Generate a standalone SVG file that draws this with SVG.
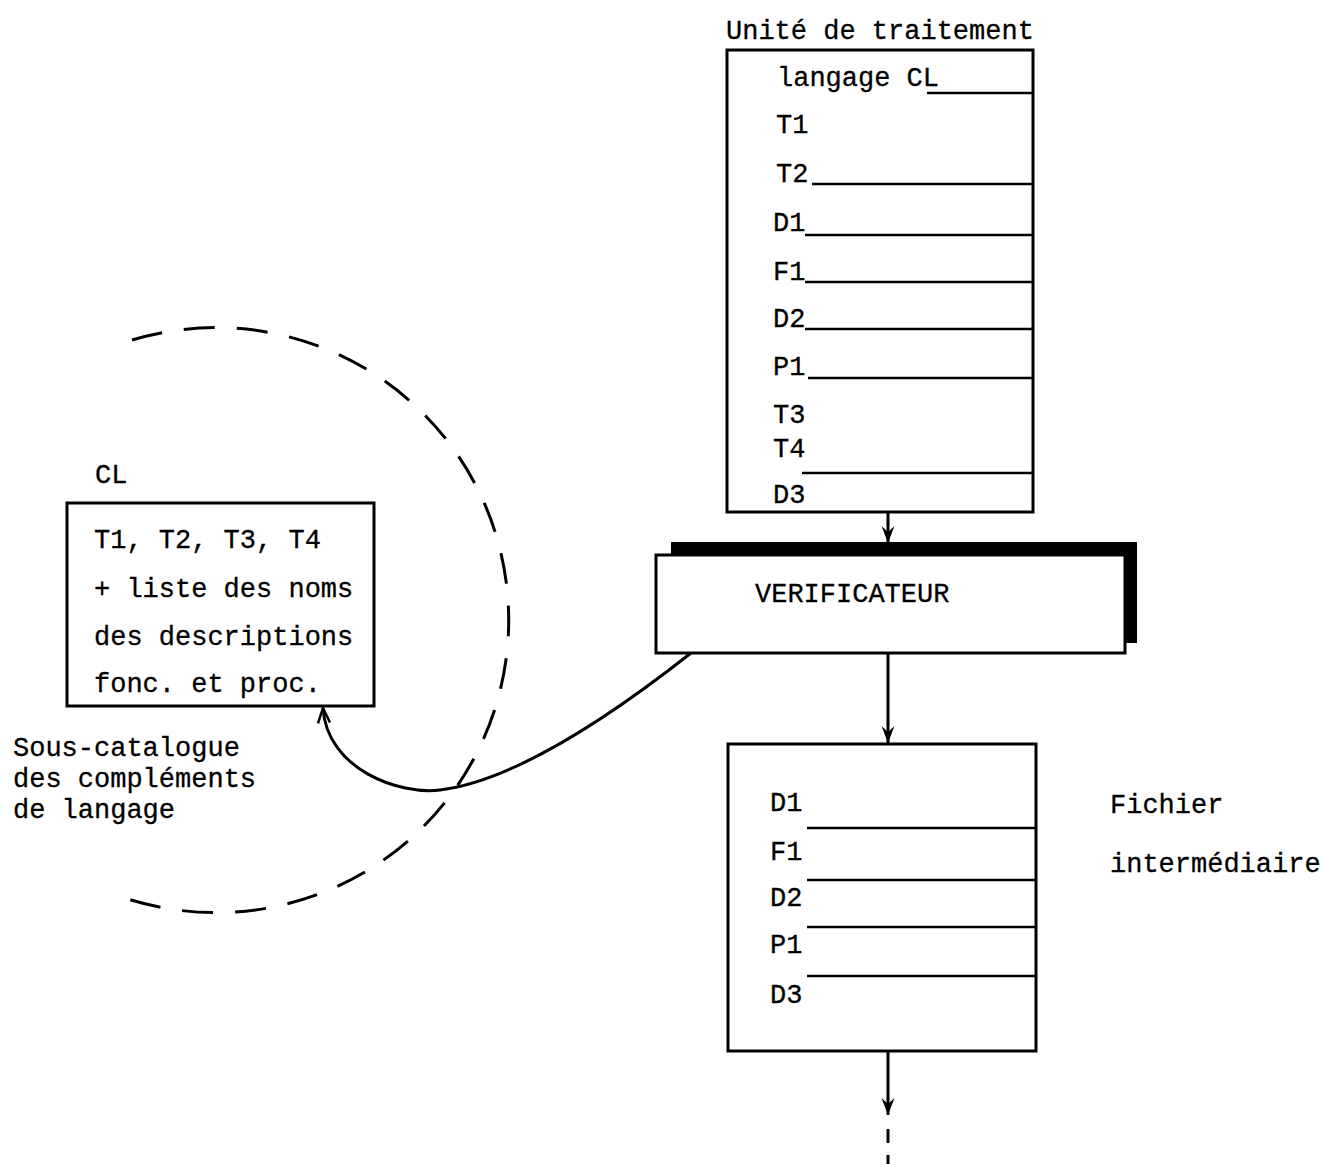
<svg xmlns="http://www.w3.org/2000/svg" width="1323" height="1164" viewBox="0 0 1323 1164">
<style>
text{font-family:"Liberation Mono","Courier New",monospace;font-size:27px;fill:#000;stroke:#000;stroke-width:0.3}
.box{fill:#fff;stroke:#000;stroke-width:3}
.sep{stroke:#000;stroke-width:2.5;fill:none}
.conn{stroke:#000;stroke-width:3;fill:none}
.dash{stroke:#000;stroke-width:3;fill:none;stroke-dasharray:31 22}
</style>
<defs>
<marker id="ah" viewBox="-20 -10 22 20" markerWidth="22" markerHeight="20" refX="0" refY="0" orient="auto" markerUnits="userSpaceOnUse">
<path d="M0,0 L-17,-6.5 L-11,0 L-17,6.5 Z" fill="#000"/>
</marker>
<marker id="ao" viewBox="-20 -10 22 20" markerWidth="22" markerHeight="20" refX="0" refY="0" orient="auto" markerUnits="userSpaceOnUse">
<path d="M-15,-6 L0,0 L-15,6" fill="none" stroke="#000" stroke-width="2.5"/>
</marker>
</defs>
<rect width="1323" height="1164" fill="#fff"/>

<g id="circle">
<path class="dash" d="M 132 340 A 292.5 292.5 0 1 1 128 899"/>
</g>

<g id="unite">
<text x="726" y="39">Unité de traitement</text>
<rect class="box" x="727" y="50" width="306" height="462"/>
<text x="777" y="86">langage CL</text>
<line class="sep" x1="927" y1="93" x2="1033" y2="93"/>
<text x="776" y="133">T1</text>
<text x="776" y="182">T2</text>
<line class="sep" x1="812" y1="184" x2="1033" y2="184"/>
<text x="773" y="231">D1</text>
<line class="sep" x1="805" y1="235" x2="1033" y2="235"/>
<text x="773" y="280">F1</text>
<line class="sep" x1="805" y1="282" x2="1033" y2="282"/>
<text x="773" y="327">D2</text>
<line class="sep" x1="805" y1="329" x2="1033" y2="329"/>
<text x="773" y="375">P1</text>
<line class="sep" x1="808" y1="378" x2="1033" y2="378"/>
<text x="773" y="423">T3</text>
<text x="773" y="457">T4</text>
<line class="sep" x1="802" y1="473" x2="1033" y2="473"/>
<text x="773" y="503">D3</text>
</g>

<g id="verificateur">
<path d="M 671 542 H 1137 V 643 H 1124 V 556 H 671 Z" fill="#000"/>
<rect class="box" x="656" y="555" width="469" height="98"/>
<text x="755" y="602">VERIFICATEUR</text>
</g>

<g id="cl">
<text x="95" y="483">CL</text>
<rect class="box" x="67" y="503" width="307" height="203"/>
<text x="94" y="548">T1, T2, T3, T4</text>
<text x="94" y="597">+ liste des noms</text>
<text x="94" y="645">des descriptions</text>
<text x="94" y="692">fonc. et proc.</text>
<text x="13" y="756">Sous-catalogue</text>
<text x="13" y="787">des compléments</text>
<text x="13" y="818">de langage</text>
</g>

<g id="fichier">
<rect class="box" x="728" y="744" width="308" height="307"/>
<text x="770" y="811">D1</text>
<line class="sep" x1="807" y1="828" x2="1036" y2="828"/>
<text x="770" y="860">F1</text>
<line class="sep" x1="807" y1="880" x2="1036" y2="880"/>
<text x="770" y="906">D2</text>
<line class="sep" x1="807" y1="927" x2="1036" y2="927"/>
<text x="770" y="953">P1</text>
<line class="sep" x1="807" y1="976" x2="1036" y2="976"/>
<text x="770" y="1003">D3</text>
<text x="1110" y="813">Fichier</text>
<text x="1110" y="872">intermédiaire</text>
</g>

<g id="connectors">
<line class="conn" x1="888" y1="512" x2="888" y2="543" marker-end="url(#ah)"/>
<line class="conn" x1="888" y1="653" x2="888" y2="743" marker-end="url(#ah)"/>
<line class="conn" x1="888" y1="1051" x2="888" y2="1115" marker-end="url(#ah)"/>
<line class="conn" x1="888" y1="1129" x2="888" y2="1143"/>
<line class="conn" x1="888" y1="1155" x2="888" y2="1164"/>
<path class="conn" d="M 691 653 C 625 705, 520 780, 440 790 C 400 795, 327 770, 323 708" marker-end="url(#ao)"/>
</g>
</svg>
